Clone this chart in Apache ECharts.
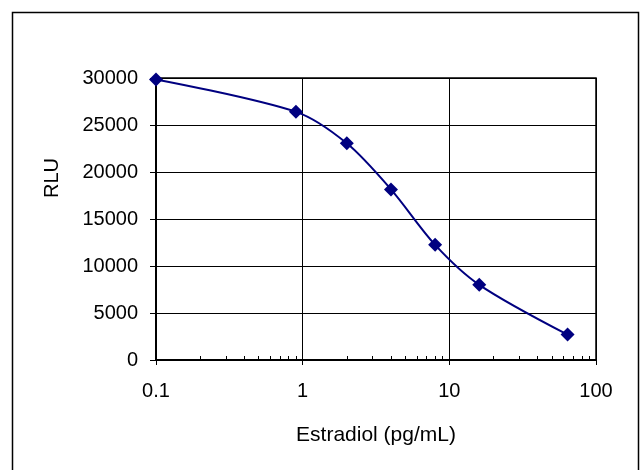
<!DOCTYPE html>
<html>
<head>
<meta charset="utf-8">
<script src="https://cdn.jsdelivr.net/npm/echarts@6/dist/echarts.min.js"></script>
<style>
  html, body { margin: 0; padding: 0; background: #fff; }
  #main { width: 640px; height: 470px; }
</style>
</head>
<body>
<div id="main"></div>
<script>
// standard curve readings
var concentrations = [0.1, 0.9, 2, 4, 8, 16, 64];
var rlu = [29850, 26400, 23050, 18150, 12250, 8000, 2700];
var minorTickValues = [0.2, 0.3, 0.4, 0.5, 0.6, 0.7, 0.8, 0.9,
                       2, 3, 4, 5, 6, 7, 8, 9,
                       20, 30, 40, 50, 60, 70, 80, 90];

var font = 'Liberation Sans, Arial, sans-serif';

var points = concentrations.map(function (c, i) { return [c, rlu[i]]; });

var myChart = echarts.init(document.getElementById('main'));
myChart.setOption({
    animation: false,
    backgroundColor: '#fff',
    graphic: [
        {
            type: 'rect',
            shape: { x: 12.5, y: 12.5, width: 626, height: 480 },
            style: { fill: 'none', stroke: '#000', lineWidth: 1.5 },
            silent: true
        },
        {
            type: 'text',
            left: 42,
            top: 158,
            rotation: Math.PI / 2,
            style: { text: 'RLU', font: '20px ' + font, fill: '#000' }
        }
    ],
    grid: {
        left: 156,
        top: 78,
        right: 44,
        bottom: 110,
        show: true,
        borderColor: '#000',
        borderWidth: 1.5
    },
    xAxis: [
        {
            type: 'log',
            logBase: 10,
            min: 0.1,
            max: 100,
            name: 'Estradiol (pg/mL)',
            nameLocation: 'middle',
            nameGap: 65,
            nameTextStyle: { fontFamily: font, fontSize: 21, color: '#000' },
            axisLine: { lineStyle: { color: '#000', width: 2 } },
            axisTick: { inside: false, length: 5, lineStyle: { color: '#000', width: 1 } },
            axisLabel: { fontFamily: font, fontSize: 20, color: '#000', margin: 21 },
            splitLine: { show: true, lineStyle: { color: '#000', width: 1 } }
        },
        {
            type: 'log',
            logBase: 10,
            min: 0.1,
            max: 100,
            position: 'bottom',
            axisLine: { show: false },
            axisLabel: { show: false },
            splitLine: { show: false },
            axisTick: {
                show: true,
                inside: true,
                length: 4,
                customValues: minorTickValues,
                lineStyle: { color: '#000', width: 1 }
            }
        }
    ],
    yAxis: {
        type: 'value',
        min: 0,
        max: 30000,
        interval: 5000,
        axisLine: { show: true, lineStyle: { color: '#000', width: 2 } },
        axisTick: { show: true, length: 6, lineStyle: { color: '#000', width: 1 } },
        axisLabel: {
            fontFamily: font, fontSize: 20, color: '#000', margin: 18,
            formatter: function (v) { return String(v); }
        },
        splitLine: { show: true, lineStyle: { color: '#000', width: 1 } }
    },
    series: [
        {
            type: 'line',
            xAxisIndex: 0,
            data: points,
            smooth: 0.3,
            symbol: 'diamond',
            symbolSize: 14,
            lineStyle: { color: '#000080', width: 2 },
            itemStyle: { color: '#000080' }
        }
    ]
});
</script>
</body>
</html>
